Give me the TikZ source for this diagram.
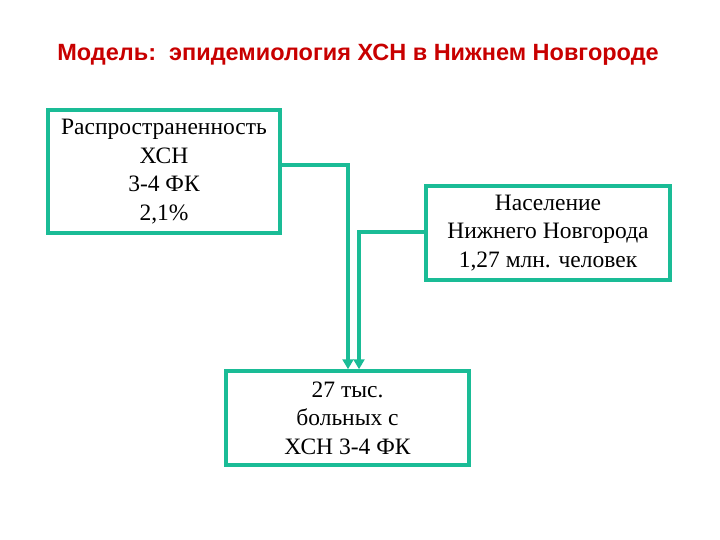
\documentclass[tikz,border=0pt]{standalone}
\usepackage{fontspec}
\usetikzlibrary{arrows.meta}
\setmainfont{Liberation Serif}
\newfontfamily\arialf{Liberation Sans}
\definecolor{tealc}{RGB}{26,188,150}
\definecolor{redt}{RGB}{200,0,0}
\begin{document}
\begin{tikzpicture}[x=1pt,y=-1pt,
 box/.style={draw=tealc,line width=3.5pt,align=center,font=\fontsize{23.5}{28.5}\selectfont,inner sep=0pt},
 conn/.style={draw=tealc,line width=3.5pt,-{Triangle[length=10pt,width=11pt]}}]
\useasboundingbox (0,0) rectangle (720,540);
\node[font=\arialf\bfseries\fontsize{23.5}{26}\selectfont,text=redt] (t) at (358,55) {Модель:\ \ эпидемиология ХСН в Нижнем Новгороде};
\node[box,minimum width=232pt,minimum height=123pt] (a) at (164,171.5) {Распространенность\\ХСН\\3-4 ФК\\2,1\%};
\node[box,minimum width=244pt,minimum height=94pt] (b) at (548,233) {Население\\Нижнего Новгорода\\1,27 млн. человек};
\node[box,minimum width=243pt,minimum height=94pt] (c) at (347.5,418) {27 тыс.\\больных с\\ХСН 3-4 ФК};
\draw[conn] (a.east|-0,165) -| (348,0|-c.north);
\draw[conn] (b.west|-0,232) -| (359,0|-c.north);
\end{tikzpicture}
\end{document}
